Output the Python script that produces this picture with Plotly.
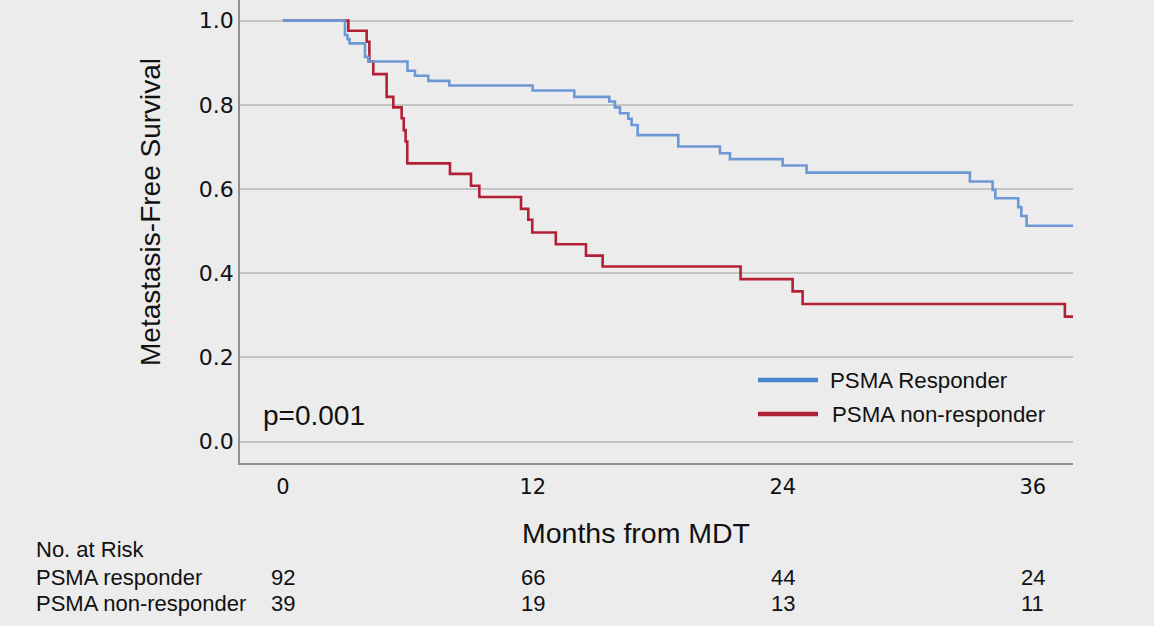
import plotly.graph_objects as go

# ---- data ----
resp_time = [0, 2.98, 3.1, 3.2, 3.94, 4.1, 5.98, 6.34, 6.98, 7.99, 11.99, 13.99, 15.67, 15.94,
             16.18, 16.58, 16.74, 17.03, 18.98, 20.98, 21.46, 23.99, 25.14, 32.98, 34.07, 34.2,
             35.3, 35.45, 35.7, 37.93]
resp_surv = [1.0, 0.966, 0.956, 0.946, 0.914, 0.903, 0.881, 0.869, 0.857, 0.846, 0.834, 0.819,
             0.808, 0.794, 0.78, 0.767, 0.752, 0.728, 0.701, 0.685, 0.671, 0.656, 0.639, 0.618,
             0.598, 0.578, 0.557, 0.536, 0.513, 0.513]

nonresp_time = [0, 3.14, 4.02, 4.15, 4.34, 4.98, 5.3, 5.7, 5.8, 5.89, 5.97, 8.02, 9.03, 9.43,
                11.43, 11.78, 11.97, 13.1, 14.55, 15.35, 21.97, 24.47, 24.95, 37.54, 37.93]
nonresp_surv = [1.0, 0.976, 0.95, 0.903, 0.873, 0.819, 0.794, 0.768, 0.74, 0.713, 0.661, 0.636,
                0.608, 0.581, 0.553, 0.527, 0.497, 0.469, 0.442, 0.416, 0.386, 0.357, 0.327,
                0.297, 0.297]

risk_times = [0, 12, 24, 36]
risk_resp = [92, 66, 44, 24]
risk_nonresp = [39, 19, 13, 11]

y_ticks = [0.0, 0.2, 0.4, 0.6, 0.8, 1.0]
x_ticks = [0, 12, 24, 36]

BLUE = "rgb(108,152,214)"
BLUE_LEG = "rgb(74,134,207)"
RED = "rgb(178,32,54)"
BG = "#ececec"
FONT = "Liberation Sans, Arial, sans-serif"
TICKFONT = "DejaVu Sans, Verdana, sans-serif"

fig = go.Figure()
fig.add_trace(go.Scatter(x=nonresp_time, y=nonresp_surv, mode="lines",
                         line=dict(color=RED, width=2.6, shape="hv"),
                         name="PSMA non-responder", showlegend=False))
fig.add_trace(go.Scatter(x=resp_time, y=resp_surv, mode="lines",
                         line=dict(color=BLUE, width=2.6, shape="hv"),
                         name="PSMA Responder", showlegend=False))

H_PLOT = 463.0
W_PLOT = 833.0

def py(pix):
    return (H_PLOT - pix) / H_PLOT

def px(pix):
    return (pix - 240) / W_PLOT

annotations = []
# y title
annotations.append(dict(text="Metastasis-Free Survival", x=px(150), y=py(212), xref="paper",
                        yref="paper", textangle=-90, xanchor="center", yanchor="middle",
                        showarrow=False, font=dict(size=28, color="#111", family=FONT)))
# p value
annotations.append(dict(text="p=0.001", x=px(261), y=py(415), xref="paper", yref="paper",
                        xanchor="left", yanchor="middle", showarrow=False,
                        font=dict(size=28, color="#111", family=FONT)))
# legend
shapes = []
for label, col, ypix, txtx in [("PSMA Responder", BLUE_LEG, 380, 828),
                               ("PSMA non-responder", RED, 414, 830)]:
    shapes.append(dict(type="line", xref="paper", yref="paper", x0=px(758), x1=px(818),
                       y0=py(ypix), y1=py(ypix), line=dict(color=col, width=4.5)))
    annotations.append(dict(text=label, x=px(txtx), y=py(ypix), xref="paper",
                            yref="paper", xanchor="left", yanchor="middle", showarrow=False,
                            font=dict(size=22.3, color="#111", family=FONT)))
# x title
annotations.append(dict(text="Months from MDT", x=px(636), y=py(533), xref="paper",
                        yref="paper", xanchor="center", yanchor="middle", showarrow=False,
                        font=dict(size=28.5, color="#111", family=FONT)))
# number at risk
for label, ypix in [("No. at Risk", 549), ("PSMA responder", 577), ("PSMA non-responder", 603)]:
    annotations.append(dict(text=label, x=px(34), y=py(ypix), xref="paper", yref="paper",
                            xanchor="left", yanchor="middle", showarrow=False,
                            font=dict(size=22, color="#111", family=FONT)))
for vals, ypix in [(risk_resp, 577), (risk_nonresp, 603)]:
    for t, v in zip(risk_times, vals):
        annotations.append(dict(text=str(v), x=t, y=py(ypix), xref="x", yref="paper",
                                xanchor="center", yanchor="middle", showarrow=False,
                                font=dict(size=22, color="#111", family=FONT)))

fig.update_layout(
    width=1154, height=626,
    margin=dict(l=240, r=81, t=0, b=163),
    paper_bgcolor=BG, plot_bgcolor=BG,
    font=dict(family=FONT, color="#111"),
    annotations=annotations, shapes=shapes,
    xaxis=dict(range=[-2.06, 37.93], tickvals=x_ticks, ticktext=[str(v) for v in x_ticks],
               showgrid=False, zeroline=False, showline=True, linecolor="#8f8f8f",
               linewidth=1.5, ticks="", tickfont=dict(size=21, color="#111", family=TICKFONT),
               ticklabelstandoff=4),
    yaxis=dict(range=[-0.0506, 1.049], tickvals=y_ticks, ticktext=[f"{v:.1f}" for v in y_ticks],
               showgrid=True, gridcolor="#c4c4c4", gridwidth=1.5, zeroline=False,
               showline=True, linecolor="#8f8f8f", linewidth=1.5, ticks="",
               tickfont=dict(size=22, color="#111", family=TICKFONT), ticklabelstandoff=0),
)

fig.write_html("out.html", config={"displayModeBar": False},
               post_script="document.body.style.margin='0';document.body.style.overflow='hidden';")
